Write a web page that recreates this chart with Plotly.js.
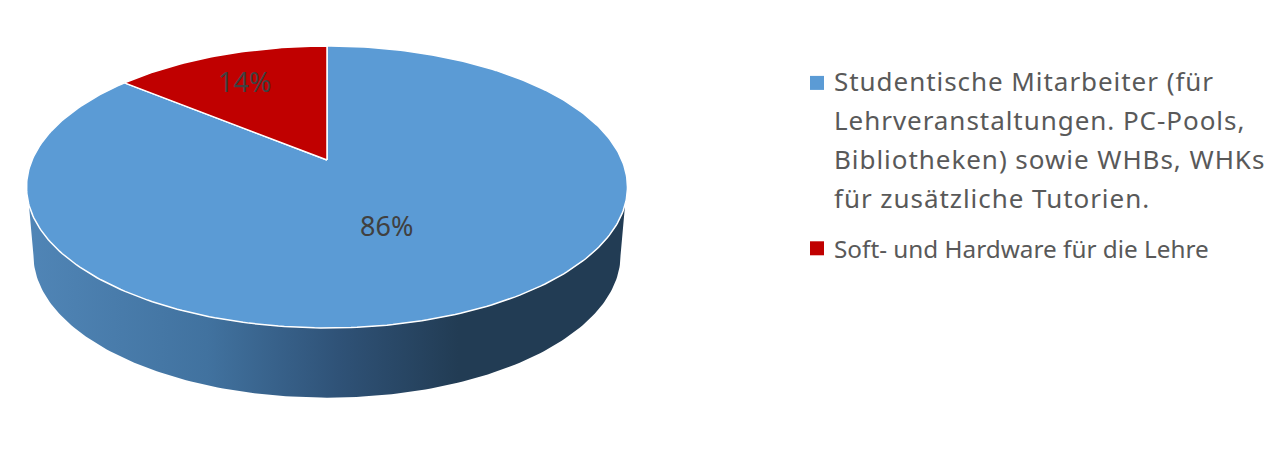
<!DOCTYPE html>
<html><head><meta charset="utf-8">
<script src="https://cdn.plot.ly/plotly-3.0.1.min.js"></script>
<style>html,body{margin:0;padding:0;background:#fff}</style></head>
<body><div id="chart" style="width:1285px;height:450px"></div>
<script>
const categories = ["Studentische Mitarbeiter (für<br>Lehrveranstaltungen. PC-Pools,<br>Bibliotheken) sowie WHBs, WHKs<br>für zusätzliche Tutorien.", "Soft- und Hardware für die Lehre"];
const shares = [86, 14];
const sliceColors = ["#5B9BD5", "#C00000"];
const labelRadius = [0.44, 0.74];
const labelNudge = [7, 2];

// Perspective view of the pie disc
const CX = 327, CY = 160, DEPTH = 68, A = 294.9, B = 135.8, K = 0.1915;
function project(angle, r, scaleX, scaleY, dy) {
  const s = Math.sin(angle), c = Math.cos(angle), w = 1 + K * r * c;
  return [CX + scaleX * A * r * s / w, CY + dy - scaleY * B * r * c / w];
}
function arc(a0, a1, scaleX, scaleY, dy) {
  const pts = [], n = Math.max(2, Math.ceil(Math.abs(a1 - a0) * 60));
  for (let i = 0; i <= n; i++) pts.push(project(a0 + (a1 - a0) * i / n, 1, scaleX, scaleY, dy));
  return pts;
}
const total = shares.reduce((p, v) => p + v, 0);
const traces = [];
const D = Math.PI / 180;
// front wall
const wallPts = arc(108 * D, 252 * D, 1, 1, 0).concat(arc(259 * D, 101 * D, 0.977, 1.01, DEPTH));
traces.push({
  x: wallPts.map(p => p[0]), y: wallPts.map(p => p[1]), mode: "lines", fill: "toself",
  line: {width: 0}, showlegend: false, hoverinfo: "skip", fillcolor: "rgba(0,0,0,0)",
  fillgradient: {type: "horizontal", colorscale: [[0, "#5085B6"], [0.3, "#41729F"], [0.52, "#2F5277"], [0.72, "#223C54"], [1, "#223C54"]]}
});
// top faces
let acc = 0;
const annotations = [];
shares.forEach((v, i) => {
  const a0 = acc / total * 2 * Math.PI, a1 = (acc + v) / total * 2 * Math.PI;
  const rim = arc(a0, a1, 1, 1, 0);
  const pts = [[CX, CY]].concat(rim, [[CX, CY]]);
  traces.push({
    x: pts.map(p => p[0]), y: pts.map(p => p[1]), mode: "lines", fill: "toself",
    fillcolor: sliceColors[i], line: {color: "#ffffff", width: 1.5}, showlegend: false, hoverinfo: "skip"
  });
  const lp = project((a0 + a1) / 2, labelRadius[i], 1, 1, labelNudge[i]);
  annotations.push({x: lp[0], y: lp[1], xref: "x", yref: "y", text: v + "%", showarrow: false,
    font: {family: "Noto Sans, sans-serif", size: 27, color: "#404040"}, xanchor: "center", yanchor: "middle"});
  acc += v;
});
// legend keys
categories.forEach((name, i) => traces.push({
  x: [null], y: [null], mode: "markers", name: name, legend: i ? "legend2" : "legend",
  marker: {symbol: "square", size: 14, color: sliceColors[i]}, hoverinfo: "skip"
}));
const FS1 = 26, FS2 = 24.3;
const layout = {
  width: 1285, height: 450, margin: {l: 0, r: 0, t: 0, b: 0}, paper_bgcolor: "#fff", plot_bgcolor: "#fff",
  xaxis: {range: [0, 1285], visible: false, fixedrange: true},
  yaxis: {range: [450, 0], visible: false, fixedrange: true},
  annotations: annotations,
  legend: {x: 794 / 1285, y: 1 - 57 / 450, xanchor: "left", yanchor: "top", bgcolor: "rgba(0,0,0,0)", font: {family: "Noto Sans, sans-serif", size: FS1, color: "#595959"}},
  legend2: {x: 794 / 1285, y: 1 - 226 / 450, xanchor: "left", yanchor: "top", bgcolor: "rgba(0,0,0,0)", font: {family: "Noto Sans, sans-serif", size: FS2, color: "#595959"}}
};
Plotly.newPlot("chart", traces, layout, {displayModeBar: false, staticPlot: true}).then(() => {
  // the reference has looser line spacing and a tighter key gap than the library's defaults
  const root = document.querySelector("#chart");
  root.querySelectorAll(".legendtext").forEach((t, i) => { if (!i) t.style.letterSpacing = "0.95px"; });
  root.querySelectorAll(".legendtext tspan.line").forEach((t, i) => t.setAttribute("dy", (i * 39.3) + "px"));
  root.querySelectorAll(".infolayer g, .infolayer rect").forEach(n => n.removeAttribute("clip-path"));
  const lines = categories[0].split("<br>").length;
  root.querySelectorAll(".legendpoints path").forEach((p, i) => {
    p.setAttribute("transform", `translate(23,${i ? 0 : 2.5 - (lines - 1) * 1.3 * FS1 / 2})`);
  });
});
</script></body></html>
